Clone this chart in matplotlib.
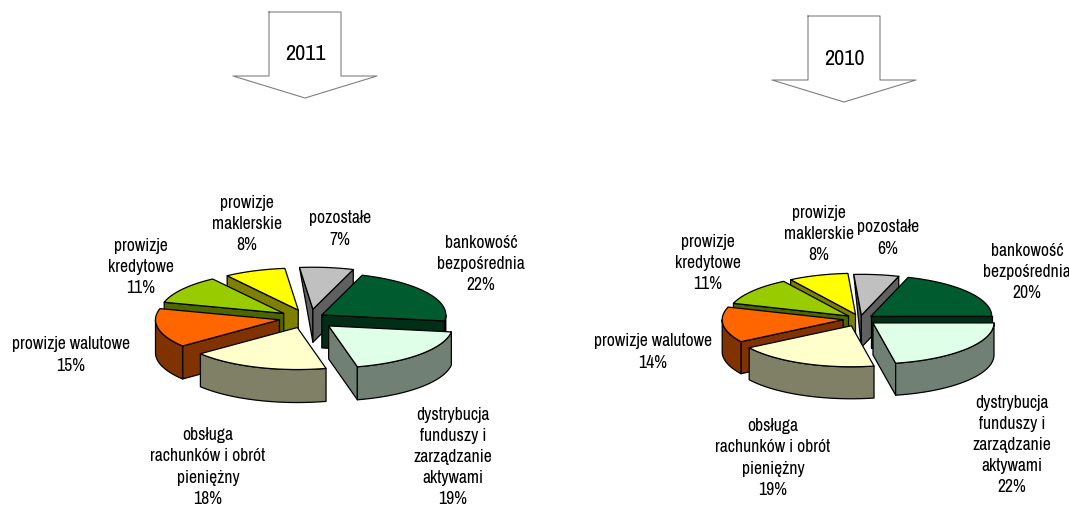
import numpy as np
import matplotlib
matplotlib.use("Agg")
import matplotlib.pyplot as plt

plt.rcParams["font.family"] = ["Archivo Narrow", "Liberation Sans", "DejaVu Sans"]

# ------------------------------------------------------------
# Data
# ------------------------------------------------------------

CATEGORIES = [
    "bankowość\nbezpośrednia",
    "dystrybucja\nfunduszy i\nzarządzanie\naktywami",
    "obsługa\nrachunków i obrót\npieniężny",
    "prowizje walutowe",
    "prowizje\nkredytowe",
    "prowizje\nmaklerskie",
    "pozostałe",
]

SHARES_2011 = [22, 19, 18, 15, 11, 8, 7]
SHARES_2010 = [20, 22, 19, 14, 11, 8, 6]

# ------------------------------------------------------------
# Styling and layout (figure pixels)
# ------------------------------------------------------------

TOP_COLORS = ["#005C2E", "#E0FFE8", "#FFFFCC", "#FF6600", "#99CC00", "#FFFF00", "#C0C0C0"]
WALL_COLORS = ["#002E17", "#708074", "#808066", "#803300", "#4D6600", "#808000", "#606060"]

# back slices are painted first so the front ones overlap them
DRAW_ORDER = [6, 5, 4, 0, 3, 2, 1]
TAPERED_SLICE = 6

PIE_2011 = dict(center=(305, 319), rx=124, ry=42, depth=33, start=71,
                explode=[0.14, 0.28, 0.24, 0.21, 0.19, 0.2, 0.21],
                nudge=[2, -2, 2, 0, -2, 2, 5])
PIE_2010 = dict(center=(860, 320), rx=121, ry=41, depth=32, start=72,
                explode=[0.11, 0.15, 0.18, 0.14, 0.12, 0.12, 0.09],
                nudge=[0, -1, 0, 0, 0, 0, 0])

LABELS_2011 = [(481, 264), (453, 457), (208, 467), (71, 355), (141, 267), (247, 224), (340, 229)]
LABELS_2010 = [(1027, 272), (1012, 445), (773, 458), (653, 352), (708, 263), (819, 234), (888, 238)]

ARROW_2011 = dict(shaft=(269, 341), wings=(233, 377), top=13, neck=77, tip=99, text_y=54)
ARROW_2010 = dict(shaft=(808, 880), wings=(772, 916), top=17, neck=81, tip=103, text_y=59)

FONT_SIZE = 12.7


def rim_points(cx, cy, rx, ry, a0, a1, n=60):
    angles = np.radians(np.linspace(a0, a1, n))
    return cx + rx * np.cos(angles), cy - ry * np.sin(angles)


def draw_slice(ax, idx, a0, a1, cfg):
    """
    Draw one exploded slice: side walls, outer rim and top face.
    a0 is the counter-clockwise edge, a1 the clockwise edge.
    """
    rx, ry, depth = cfg["rx"], cfg["ry"], cfg["depth"]
    mid = np.radians((a0 + a1) / 2)
    cx = cfg["center"][0] + cfg["explode"][idx] * rx * np.cos(mid) + cfg["nudge"][idx]
    cy = cfg["center"][1] - cfg["explode"][idx] * ry * np.sin(mid)

    top = TOP_COLORS[idx]
    wall = WALL_COLORS[idx]
    edge = dict(edgecolor="black", linewidth=0.9, joinstyle="round")

    # radial walls, only where they face the viewer
    if np.cos(np.radians(a0)) < 0:
        x, y = rim_points(cx, cy, rx, ry, a0, a0, 1)
        # this wall narrows to a point under the perspective
        rim_depth = 0 if idx == TAPERED_SLICE else depth
        ax.fill([cx, x[0], x[0], cx], [cy, y[0], y[0] + rim_depth, cy + depth],
                facecolor=wall, **edge)
    if np.cos(np.radians(a1)) > 0:
        x, y = rim_points(cx, cy, rx, ry, a1, a1, 1)
        ax.fill([cx, x[0], x[0], cx], [cy, y[0], y[0] + depth, cy + depth],
                facecolor=wall, **edge)

    # outer rim, lower half of the ellipse only
    s, e = max(a1, -180), min(a0, 0)
    if e > s:
        x, y = rim_points(cx, cy, rx, ry, s, e)
        ax.fill(np.r_[x, x[::-1]], np.r_[y, y[::-1] + depth], facecolor=wall, **edge)

    x, y = rim_points(cx, cy, rx, ry, a0, a1)
    ax.fill(np.r_[cx, x], np.r_[cy, y], facecolor=top, **edge)


def draw_pie(ax, shares, cfg):
    bounds = cfg["start"] - np.cumsum([0] + list(shares)) * 360.0 / sum(shares)
    for idx in DRAW_ORDER:
        draw_slice(ax, idx, bounds[idx], bounds[idx + 1], cfg)


def draw_labels(ax, shares, positions):
    for name, share, (x, y) in zip(CATEGORIES, shares, positions):
        ax.text(x, y, f"{name}\n{share}%", ha="center", va="center",
                fontsize=FONT_SIZE, linespacing=1.4, color="black")


def draw_arrow(ax, label, cfg):
    xl, xr = cfg["shaft"]
    wl, wr = cfg["wings"]
    xs = [xl, xr, xr, wr, (wl + wr) / 2, wl, xl, xl]
    ys = [cfg["top"], cfg["top"], cfg["neck"], cfg["neck"], cfg["tip"], cfg["neck"], cfg["neck"], cfg["top"]]
    ax.plot(xs, ys, color="#808080", linewidth=0.8)
    ax.text((xl + xr) / 2, cfg["text_y"], label, ha="center", va="center", fontsize=16)


def main():
    fig = plt.figure(figsize=(10.69, 5.06), dpi=100)
    ax = fig.add_axes([0, 0, 1, 1])
    ax.set_xlim(0, 1069)
    ax.set_ylim(506, 0)
    ax.axis("off")

    draw_pie(ax, SHARES_2011, PIE_2011)
    draw_pie(ax, SHARES_2010, PIE_2010)

    draw_labels(ax, SHARES_2011, LABELS_2011)
    draw_labels(ax, SHARES_2010, LABELS_2010)

    draw_arrow(ax, "2011", ARROW_2011)
    draw_arrow(ax, "2010", ARROW_2010)

    fig.savefig("out.png", dpi=100)


if __name__ == "__main__":
    main()
